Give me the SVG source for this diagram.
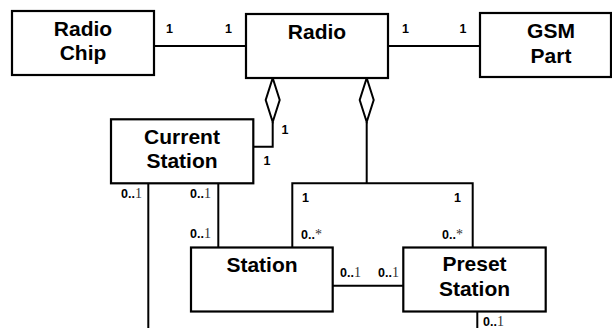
<svg xmlns="http://www.w3.org/2000/svg" width="612" height="328" viewBox="0 0 612 328">
<style>
.box{fill:#fff;stroke:#000;stroke-width:2.2}
.name{font-family:"Liberation Sans",Arial,sans-serif;font-weight:bold;font-size:21px;text-anchor:middle;fill:#000}
.ln{fill:none;stroke:#000;stroke-width:2}
.dia{fill:#fff;stroke:#000;stroke-width:2}
.m{font-family:"Liberation Sans",Arial,sans-serif;font-weight:bold;font-size:12.5px;fill:#000}
.s{font-family:"Liberation Serif","Times New Roman",serif;font-weight:normal;font-size:14px;fill:#333}
</style>
<rect width="612" height="328" fill="#fff"/>
<g id="connectors">
<line class="ln" x1="154" y1="46" x2="246" y2="46"/>
<line class="ln" x1="388" y1="46" x2="480" y2="46"/>
<polyline class="ln" points="272.7,122 272.7,146.7 253.3,146.7"/>
<polygon class="dia" points="272.7,78 279.7,100 272.7,122 265.7,100"/>
<line class="ln" x1="366.7" y1="122" x2="366.7" y2="183.3"/>
<polygon class="dia" points="366.7,78 373.7,100 366.7,122 359.7,100"/>
<polyline class="ln" points="292.3,247.5 292.3,183.3 472.7,183.3 472.7,247.5"/>
<line class="ln" x1="148.3" y1="183.3" x2="148.3" y2="328"/>
<line class="ln" x1="218.3" y1="183.3" x2="218.3" y2="247.5"/>
<line class="ln" x1="332.7" y1="285.7" x2="403.3" y2="285.7"/>
<line class="ln" x1="477.3" y1="311.7" x2="477.3" y2="328"/>
<text class="m" x="166" y="33">1</text>
<text class="m" x="225" y="33">1</text>
<text class="m" x="402" y="33">1</text>
<text class="m" x="459.5" y="33">1</text>
<text class="m" x="281.5" y="134">1</text>
<text class="m" x="263.5" y="164.5">1</text>
<text class="m" x="302" y="201.5">1</text>
<text class="m" x="454" y="201.5">1</text>
<text class="m" x="121" y="198.3">0..<tspan class="s">1</tspan></text>
<text class="m" x="190" y="198.3">0..<tspan class="s">1</tspan></text>
<text class="m" x="190" y="238.3">0..<tspan class="s">1</tspan></text>
<text class="m" x="301" y="239.3">0..<tspan class="s">*</tspan></text>
<text class="m" x="442" y="239.3">0..<tspan class="s">*</tspan></text>
<text class="m" x="340" y="276.5">0..<tspan class="s">1</tspan></text>
<text class="m" x="378" y="276.5">0..<tspan class="s">1</tspan></text>
<text class="m" x="483" y="325.5">0..<tspan class="s">1</tspan></text>
</g>
<g id="radio-chip">
<rect class="box" x="12" y="11" width="142" height="64"/>
<text class="name" x="83" y="35.5">Radio</text>
<text class="name" x="83" y="59.5">Chip</text>
</g>
<g id="radio">
<rect class="box" x="246" y="14" width="142" height="64"/>
<text class="name" x="317" y="38.5">Radio</text>
</g>
<g id="gsm-part">
<rect class="box" x="480" y="13" width="131" height="64"/>
<text class="name" x="551" y="37.5">GSM</text>
<text class="name" x="551" y="62.5">Part</text>
</g>
<g id="current-station">
<rect class="box" x="111" y="119.3" width="142.3" height="64"/>
<text class="name" x="182" y="143.5">Current</text>
<text class="name" x="182" y="167.5">Station</text>
</g>
<g id="station">
<rect class="box" x="191" y="247.5" width="141.7" height="64"/>
<text class="name" x="262" y="271.5">Station</text>
</g>
<g id="preset-station">
<rect class="box" x="403.3" y="247.5" width="142.4" height="64"/>
<text class="name" x="474.5" y="271">Preset</text>
<text class="name" x="474.5" y="295.5">Station</text>
</g>
</svg>
